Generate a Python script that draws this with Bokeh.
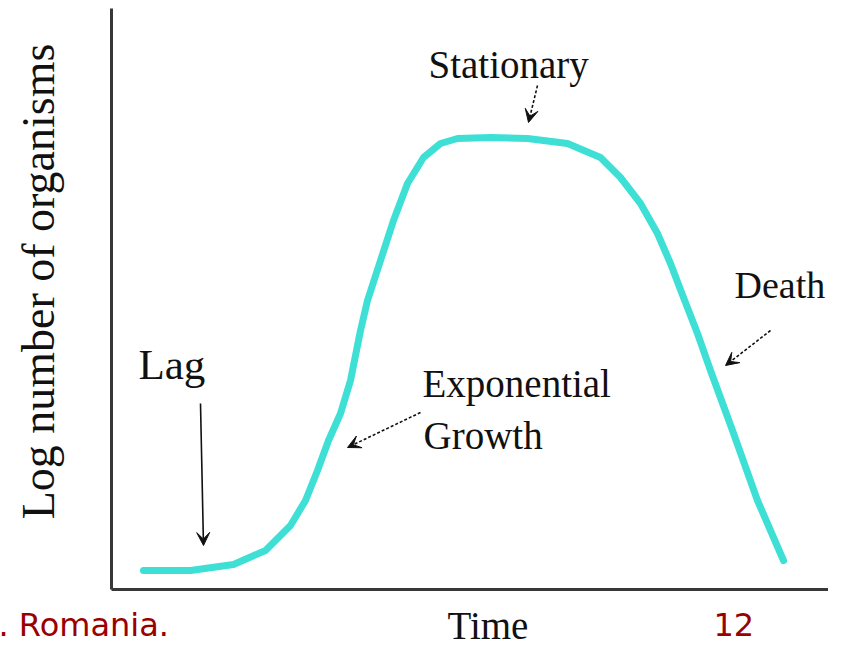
from bokeh.plotting import figure
from bokeh.models import Range1d, Label, Arrow, VeeHead
from bokeh.embed import file_html
from bokeh.resources import INLINE
import math

# Growth curve (time units, log count units)
time = [0.64, 1.58, 2.44, 3.08, 3.58, 3.88, 4.12, 4.34, 4.58, 4.78, 4.98, 5.12, 5.38,
        5.64, 5.92, 6.24, 6.58, 6.92, 7.58, 8.32, 9.12, 9.78, 10.18, 10.58, 10.92,
        11.18, 11.44, 11.72, 11.98, 12.42, 12.92, 13.44]
log_count = [0.38, 0.38, 0.50, 0.78, 1.28, 1.78, 2.38, 2.98, 3.52, 4.18, 5.18, 5.78, 6.58,
             7.38, 8.12, 8.64, 8.92, 9.02, 9.04, 9.02, 8.92, 8.64, 8.24, 7.72, 7.12,
             6.52, 5.84, 5.12, 4.38, 3.18, 1.78, 0.58]

phase_labels = ["Lag", "Exponential", "Growth", "Stationary", "Death"]
x_title = "Time"
y_title = "Log number of organisms"
footer_left = ". Romania."
footer_right = "12"

SERIF = "Liberation Serif"
CURVE = "#3EE0D6"
RED = "#9A0000"
INK = "#111111"

X0, X1 = -2.22, 14.34
Y0, Y1 = -1.16, 11.78
AXIS_TOP = 11.62

p = figure(width=828, height=647, output_backend="svg", toolbar_location=None,
           x_range=Range1d(X0, X1), y_range=Range1d(Y0, Y1),
           x_axis_location=None, y_axis_location=None,
           min_border=0, min_border_left=0, min_border_right=0,
           min_border_top=0, min_border_bottom=0)
p.outline_line_color = None
p.grid.visible = False
p.background_fill_color = "white"
p.border_fill_color = "white"

# axis lines (origin at 0,0)
p.segment(x0=[0, 0], y0=[0, 0], x1=[0, X1], y1=[AXIS_TOP, 0],
          line_color="#383838", line_width=3)

p.line(time, log_count, line_color=CURVE, line_width=7, line_cap="round",
       line_join="round")

def lab(x, y, text, size="39px", color=INK, font=SERIF, angle=0.0,
        align="left", baseline="middle"):
    p.add_layout(Label(x=x, y=y, text=text, text_font=font, text_font_size=size,
                       text_color=color, angle=angle, text_align=align,
                       text_baseline=baseline))

lab(0.54, 4.50, phase_labels[0], size="43px")
lab(6.22, 4.12, phase_labels[1])
lab(6.24, 3.08, phase_labels[2])
lab(6.34, 10.50, phase_labels[3])
lab(12.46, 6.10, phase_labels[4], size="38px")
lab(6.72, -0.72, x_title)
lab(-1.46, 6.16, y_title, size="46px", angle=math.pi / 2, align="center")
lab(-2.26, -0.70, footer_left, size="32px", color=RED, font="DejaVu Sans")
lab(12.04, -0.70, footer_right, size="32px", color=RED, font="DejaVu Sans")

def arr(x0, y0, x1, y1, dash="solid"):
    p.add_layout(Arrow(x_start=x0, y_start=y0, x_end=x1, y_end=y1,
                       line_color=INK, line_width=1.6, line_dash=dash,
                       end=VeeHead(size=13, fill_color=INK, line_color=INK)))

arr(1.78, 3.72, 1.84, 0.88)
arr(8.52, 10.08, 8.34, 9.34, "3 2")
arr(6.18, 3.54, 4.72, 2.84, "3 2")
arr(13.18, 5.18, 12.28, 4.48, "3 2")

open("out.html", "w").write(file_html(p, INLINE))
